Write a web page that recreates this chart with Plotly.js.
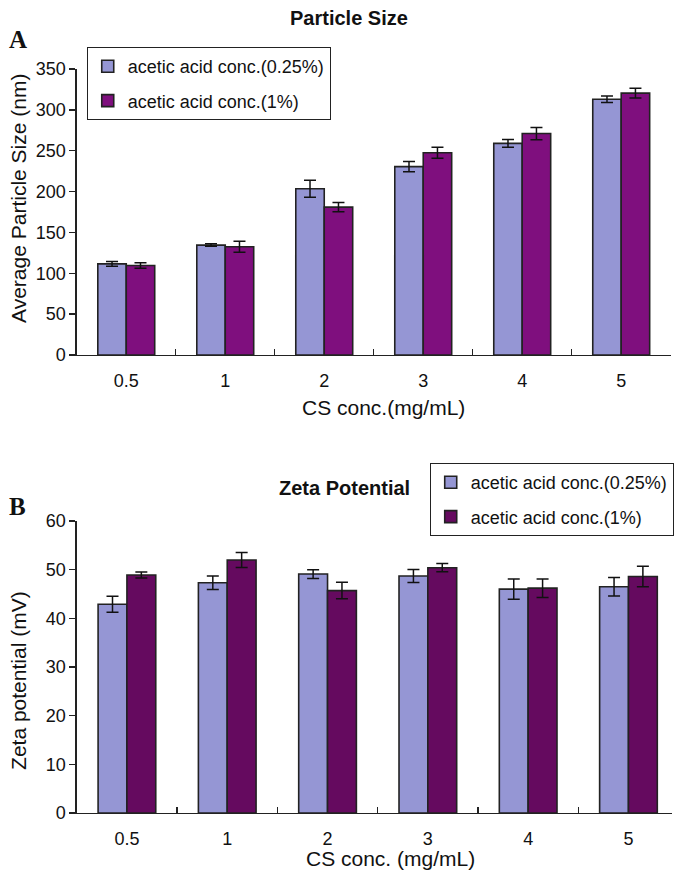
<!DOCTYPE html>
<html>
<head>
<meta charset="utf-8">
<script src="https://cdn.plot.ly/plotly-3.0.1.min.js"></script>
<style>html,body{margin:0;padding:0;background:#fff;}#chart{width:674px;height:874px;}</style>
</head>
<body>
<div id="chart"></div>
<script>
// ---- data ----
const categories = ['0.5', '1', '2', '3', '4', '5'];
const seriesNames = ['acetic acid conc.(0.25%)', 'acetic acid conc.(1%)'];

const sizeLow = [111.5, 134.5, 203.5, 230.5, 259, 313];
const sizeLowErr = [3, 1.5, 10.5, 6.3, 4.7, 4];
const sizeHigh = [109.5, 132.5, 181, 247.5, 271, 320.5];
const sizeHighErr = [3.3, 6.7, 5.7, 6.7, 7.5, 5.9];

const zetaLow = [42.9, 47.3, 49.1, 48.7, 46.0, 46.5];
const zetaLowErr = [1.65, 1.4, 0.9, 1.35, 2.1, 1.9];
const zetaHigh = [48.9, 52.0, 45.7, 50.4, 46.2, 48.6];
const zetaHighErr = [0.6, 1.55, 1.7, 0.85, 1.9, 2.1];

const xTitleTop = 'CS conc.(mg/mL)';
const xTitleBottom = 'CS conc. (mg/mL)';
const yTitleTop = 'Average Particle Size (nm)';
const yTitleBottom = 'Zeta potential (mV)';
const titleTop = 'Particle Size';
const titleBottom = 'Zeta Potential';

// ---- styles ----
const FONT = 'Liberation Sans, Arial, sans-serif';
const cLow = '#9596d4';
const cHighTop = '#7f0f7e';
const cHighBottom = '#650a5f';
const outline = {color: '#222', width: 1.6};
const errStyle = (arr) => ({type: 'data', array: arr, visible: true, color: '#111', thickness: 1.5, width: 6});

const W = 674, H = 874;
const px = (x) => x / W;
const py = (y) => 1 - y / H;

const traces = [
  {type: 'bar', name: seriesNames[0], x: categories, y: sizeLow, error_y: errStyle(sizeLowErr),
   marker: {color: cLow, line: outline}, xaxis: 'x', yaxis: 'y', legend: 'legend', legendgroup: 'a'},
  {type: 'bar', name: seriesNames[1], x: categories, y: sizeHigh, error_y: errStyle(sizeHighErr),
   marker: {color: cHighTop, line: outline}, xaxis: 'x', yaxis: 'y', legend: 'legend', legendgroup: 'b'},
  {type: 'bar', name: seriesNames[0], x: categories, y: zetaLow, error_y: errStyle(zetaLowErr),
   marker: {color: cLow, line: outline}, xaxis: 'x2', yaxis: 'y2', legend: 'legend2', legendgroup: 'c'},
  {type: 'bar', name: seriesNames[1], x: categories, y: zetaHigh, error_y: errStyle(zetaHighErr),
   marker: {color: cHighBottom, line: outline}, xaxis: 'x2', yaxis: 'y2', legend: 'legend2', legendgroup: 'd'}
];

const xCommon = {
  type: 'category', showline: true, linecolor: '#222', linewidth: 1.3,
  ticks: 'inside', tickson: 'boundaries', ticklen: 6, tickcolor: '#222', tickwidth: 1.3,
  ticklabelstandoff: 9,
  tickfont: {family: FONT, size: 18, color: '#111'}, showgrid: false, zeroline: false, fixedrange: true
};
const yCommon = {
  showline: true, linecolor: '#222', linewidth: 1.3,
  ticks: 'outside', ticklen: 6, tickcolor: '#222', tickwidth: 1.3,
  tickfont: {family: FONT, size: 18, color: '#111'}, showgrid: false, zeroline: false, fixedrange: true
};

const legendCommon = {
  font: {family: FONT, size: 18, color: '#111'}, bgcolor: '#fff', bordercolor: '#222', borderwidth: 1,
  xanchor: 'left', yanchor: 'top', traceorder: 'grouped', tracegroupgap: 8, itemwidth: 30
};

function ann(text, x, y, size, family, angle) {
  return {text: text, x: px(x), y: py(y), xref: 'paper', yref: 'paper', showarrow: false,
          xanchor: 'center', yanchor: 'middle', textangle: angle || 0,
          font: {family: family || FONT, size: size, color: '#111'}};
}

const layout = {
  width: W, height: H, margin: {l: 0, r: 0, t: 0, b: 0},
  paper_bgcolor: '#fff', plot_bgcolor: '#fff',
  barmode: 'group', bargap: 0.425, bargroupgap: 0,
  showlegend: true,
  xaxis: Object.assign({}, xCommon, {domain: [px(77), px(672.7)], anchor: 'y', range: [-0.5, 5.5]}),
  yaxis: Object.assign({}, yCommon, {domain: [py(355), py(69)], anchor: 'x', range: [0, 350], dtick: 50}),
  xaxis2: Object.assign({}, xCommon, {domain: [px(77), 1], anchor: 'y2', range: [-0.5, 5.434]}),
  yaxis2: Object.assign({}, yCommon, {domain: [py(813), py(521)], anchor: 'x2', range: [0, 60], dtick: 10}),
  legend: Object.assign({}, legendCommon, {x: px(87), y: py(47)}),
  legend2: Object.assign({}, legendCommon, {x: px(431), y: py(463)}),
  annotations: [
    ann('<b>' + titleTop + '</b>', 350, 18, 20),
    ann('<b>' + titleBottom + '</b>', 346, 488, 20),
    ann('<b>A</b>', 18, 40, 25, 'Liberation Serif, Times New Roman, serif'),
    ann('<b>B</b>', 18, 507, 25, 'Liberation Serif, Times New Roman, serif'),
    ann(xTitleTop, 385, 407, 21),
    ann(xTitleBottom, 392, 858, 21),
    ann(yTitleTop, 18, 198, 21, FONT, -90),
    ann(yTitleBottom, 18, 680, 21, FONT, -90)
  ]
};

Plotly.newPlot('chart', traces, layout, {staticPlot: true, displayModeBar: false});
</script>
</body>
</html>
